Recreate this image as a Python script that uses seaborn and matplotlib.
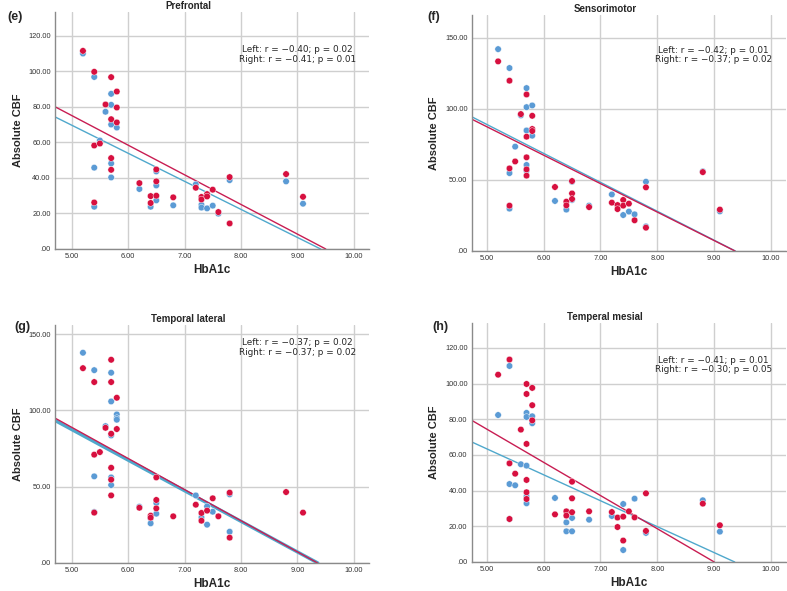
import matplotlib
matplotlib.use('Agg')
import matplotlib.pyplot as plt
import seaborn as sns
import pandas as pd
import numpy as np

# ---- data (HbA1c vs absolute CBF, left/right hemisphere) ----
# (e) Prefrontal
e_left_x = [5.2, 5.4, 5.4, 5.4, 5.5, 5.6, 5.7, 5.7, 5.7, 5.7, 5.7, 5.8, 6.2, 6.4, 6.5, 6.5, 6.5,
            6.8, 7.2, 7.3, 7.3, 7.4, 7.4, 7.5, 7.6, 7.8, 8.8, 9.1]
e_left_y = [110.1, 96.9, 45.8, 23.8, 61.1, 77.3, 87.4, 81.2, 70.1, 48.2, 40.3, 68.4, 33.8, 23.8, 43.7, 35.8, 27.4,
            24.6, 36.4, 24.9, 23.3, 30.9, 22.9, 24.4, 19.9, 38.8, 38.1, 25.5]
e_right_x = [5.2, 5.4, 5.4, 5.4, 5.5, 5.6, 5.7, 5.7, 5.7, 5.7, 5.8, 5.8, 5.8, 6.2, 6.4, 6.4, 6.5, 6.5, 6.5,
             6.8, 7.2, 7.3, 7.3, 7.4, 7.4, 7.5, 7.6, 7.8, 7.8, 8.8, 9.1]
e_right_y = [111.6, 99.8, 58.3, 26.2, 59.4, 81.4, 96.8, 73.1, 51.2, 44.6, 88.7, 79.7, 71.3, 37.1, 29.8, 25.9, 44.8, 38.1, 30.0,
             29.1, 34.5, 29.3, 27.9, 30.9, 29.6, 33.4, 20.8, 40.5, 14.4, 42.2, 29.4]

# (f) Sensorimotor
f_left_x = [5.2, 5.4, 5.4, 5.4, 5.5, 5.6, 5.7, 5.7, 5.7, 5.7, 5.7, 5.8, 5.8, 6.2, 6.4, 6.5, 6.5,
            6.8, 7.2, 7.4, 7.5, 7.6, 7.8, 7.8, 8.8, 9.1]
f_left_y = [142.0, 128.7, 54.8, 29.8, 73.4, 95.4, 114.6, 101.2, 84.8, 60.5, 56.5, 102.4, 81.1, 35.2, 29.1, 48.7, 35.9,
            31.9, 39.8, 25.3, 27.7, 25.8, 48.7, 17.3, 56.0, 27.9]
f_right_x = [5.2, 5.4, 5.4, 5.4, 5.5, 5.6, 5.7, 5.7, 5.7, 5.7, 5.7, 5.8, 5.8, 5.8, 6.2, 6.4, 6.4, 6.5, 6.5, 6.5,
             6.8, 7.2, 7.3, 7.3, 7.4, 7.4, 7.5, 7.6, 7.8, 7.8, 8.8, 9.1]
f_right_y = [133.4, 119.8, 58.1, 31.9, 63.0, 96.3, 110.1, 80.4, 65.9, 57.4, 53.0, 95.1, 85.8, 84.4, 45.0, 34.7, 32.1, 49.2, 40.5, 36.6,
             30.9, 34.0, 32.3, 29.5, 35.9, 31.9, 33.3, 21.6, 44.8, 16.4, 55.5, 29.1]

# (g) Temporal lateral
g_left_x = [5.2, 5.4, 5.4, 5.4, 5.6, 5.7, 5.7, 5.7, 5.7, 5.7, 5.8, 5.8, 5.8, 6.2, 6.4, 6.4, 6.5, 6.5,
            7.2, 7.3, 7.4, 7.4, 7.5, 7.8, 7.8]
g_left_y = [137.8, 126.4, 56.8, 33.4, 89.7, 124.7, 105.9, 83.6, 56.1, 51.1, 97.4, 95.0, 93.9, 36.9, 29.3, 26.0, 39.3, 32.3,
            44.3, 29.9, 37.1, 25.1, 33.6, 45.0, 20.5]
g_right_x = [5.2, 5.4, 5.4, 5.4, 5.5, 5.6, 5.7, 5.7, 5.7, 5.7, 5.7, 5.7, 5.8, 5.8, 6.2, 6.4, 6.4, 6.5, 6.5, 6.5,
             6.8, 7.2, 7.3, 7.3, 7.4, 7.5, 7.6, 7.8, 7.8, 8.8, 9.1]
g_right_y = [127.7, 118.6, 71.0, 33.0, 72.7, 88.6, 133.2, 118.6, 84.7, 62.4, 54.6, 44.3, 108.3, 87.8, 36.2, 31.0, 29.7, 56.1, 41.3, 35.8,
             30.6, 38.2, 32.8, 27.7, 34.3, 42.4, 30.6, 46.1, 16.6, 46.5, 33.0]

# (h) Temperal mesial
h_left_x = [5.2, 5.4, 5.4, 5.4, 5.5, 5.6, 5.7, 5.7, 5.7, 5.7, 5.7, 5.8, 5.8, 6.2, 6.4, 6.4, 6.5, 6.5,
            6.8, 7.2, 7.4, 7.4, 7.6, 7.8, 8.8, 9.1]
h_left_y = [82.4, 109.9, 43.7, 24.1, 43.0, 54.8, 83.6, 81.3, 54.0, 36.8, 32.9, 81.7, 77.8, 35.9, 22.2, 17.2, 24.7, 17.2,
            23.7, 25.8, 32.5, 6.7, 35.5, 16.3, 34.6, 17.0]
h_right_x = [5.2, 5.4, 5.4, 5.4, 5.5, 5.6, 5.7, 5.7, 5.7, 5.7, 5.7, 5.7, 5.8, 5.8, 5.8, 6.2, 6.4, 6.4, 6.5, 6.5, 6.5,
             6.8, 7.2, 7.3, 7.3, 7.4, 7.4, 7.5, 7.6, 7.8, 7.8, 8.8, 9.1]
h_right_y = [105.0, 113.5, 55.3, 24.1, 49.5, 74.2, 99.8, 94.2, 66.2, 46.0, 39.1, 35.3, 97.6, 87.9, 79.4, 26.7, 28.4, 26.0, 45.0, 35.7, 27.9,
             28.4, 28.0, 24.9, 19.6, 25.4, 12.0, 28.4, 25.0, 38.5, 17.4, 32.7, 20.6]

# fitted lines (intercept, slope) as shown in the figure
fit_left = {'e': (148.8, -15.81), 'f': (190.9, -20.37), 'g': (187.8, -20.06), 'h': (136.2, -14.55)}
fit_right = {'e': (158.7, -16.70), 'f': (187.6, -20.03), 'g': (191.0, -20.41), 'h': (167.6, -18.62)}

titles = {'e': 'Prefrontal', 'f': 'Sensorimotor', 'g': 'Temporal lateral', 'h': 'Temperal mesial'}
stats_text = {
    'e': 'Left: r = \u22120.40; p = 0.02\nRight: r = \u22120.41; p = 0.01',
    'f': 'Left: r = \u22120.42; p = 0.01\nRight: r = \u22120.37; p = 0.02',
    'g': 'Left: r = \u22120.37; p = 0.02\nRight: r = \u22120.37; p = 0.02',
    'h': 'Left: r = \u22120.41; p = 0.01\nRight: r = \u22120.30; p = 0.05',
}
y_ticks = {'e': [0, 20, 40, 60, 80, 100, 120], 'f': [0, 50, 100, 150],
           'g': [0, 50, 100, 150], 'h': [0, 20, 40, 60, 80, 100, 120]}
y_top = {'e': 133.5, 'f': 166, 'g': 156, 'h': 134}
x_ticks = [5, 6, 7, 8, 9, 10]

raw = {
    'e': (e_left_x, e_left_y, e_right_x, e_right_y),
    'f': (f_left_x, f_left_y, f_right_x, f_right_y),
    'g': (g_left_x, g_left_y, g_right_x, g_right_y),
    'h': (h_left_x, h_left_y, h_right_x, h_right_y),
}

BLUE_PT = '#5b9bd5'
RED_PT = '#d7103f'
BLUE_LN = '#4fa8cc'
RED_LN = '#c81d52'

sns.set_style('white')
plt.rcParams['font.family'] = ['Liberation Sans', 'DejaVu Sans']

fig = plt.figure(figsize=(7.87, 5.91), dpi=100)

# axes boxes in figure fractions
boxes = {
    'e': [0.0699, 0.5787, 0.3990, 0.4010],
    'f': [0.5994, 0.5753, 0.3994, 0.3993],
    'g': [0.0699, 0.0474, 0.3990, 0.4027],
    'h': [0.5994, 0.0491, 0.3994, 0.4044],
}
xlims = {'e': (4.705, 10.27), 'f': (4.736, 10.264), 'g': (4.705, 10.27), 'h': (4.736, 10.264)}
label_pos = {'e': (0.009, 0.972), 'f': (0.543, 0.972), 'g': (0.018, 0.447), 'h': (0.549, 0.447)}
text_pos = {'e': (0.772, 0.82), 'f': (0.769, 0.83), 'g': (0.772, 0.905), 'h': (0.769, 0.823)}


def fmt(v, pos):
    s = f'{v:.2f}'
    return s[1:] if s.startswith('0.') else s


for key in ['e', 'f', 'g', 'h']:
    lx, ly, rx, ry = raw[key]
    df = pd.concat([
        pd.DataFrame({'HbA1c': lx, 'CBF': ly, 'side': 'Left'}),
        pd.DataFrame({'HbA1c': rx, 'CBF': ry, 'side': 'Right'}),
    ], ignore_index=True)

    ax = fig.add_axes(boxes[key])
    ax.set_xlim(*xlims[key])
    ax.set_ylim(0, y_top[key])
    ax.set_xticks(x_ticks)
    ax.set_yticks(y_ticks[key])
    ax.xaxis.set_major_formatter(plt.FuncFormatter(fmt))
    ax.yaxis.set_major_formatter(plt.FuncFormatter(fmt))
    ax.grid(True, color='#cfcfcf', linewidth=1.0)
    ax.set_axisbelow(True)
    for sp in ['top', 'right']:
        ax.spines[sp].set_visible(False)
    for sp in ['left', 'bottom']:
        ax.spines[sp].set_color('#8a8a8a')
        ax.spines[sp].set_linewidth(1.0)
    ax.tick_params(axis='both', length=0, labelsize=5.3, colors='#333333', pad=3)

    # regression lines
    b0, b1 = fit_left[key]
    ax.axline((0, b0), slope=b1, color=BLUE_LN, lw=2.4 if key == 'g' else 1.0, zorder=2)
    b0, b1 = fit_right[key]
    ax.axline((0, b0), slope=b1, color=RED_LN, lw=1.0, zorder=2)

    sns.scatterplot(data=df, x='HbA1c', y='CBF', hue='side',
                    palette={'Left': BLUE_PT, 'Right': RED_PT},
                    s=22, edgecolor='white', linewidth=0.3, legend=False, ax=ax, zorder=3)

    ax.set_xlabel('HbA1c', fontsize=8.5, fontweight='bold', labelpad=3)
    ax.set_ylabel('Absolute CBF', fontsize=8, fontweight='bold', labelpad=4)
    ax.text(0.425, 1.026, titles[key], transform=ax.transAxes, ha='center', va='center',
            fontsize=7, fontweight='bold')
    ax.text(*text_pos[key], stats_text[key], transform=ax.transAxes, ha='center', va='center',
            fontsize=6.4, family=['DejaVu Sans'], linespacing=1.05)
    fig.text(*label_pos[key], f'({key})', fontsize=9, fontweight='bold', ha='left', va='center')

fig.savefig('out.png', dpi=100)
